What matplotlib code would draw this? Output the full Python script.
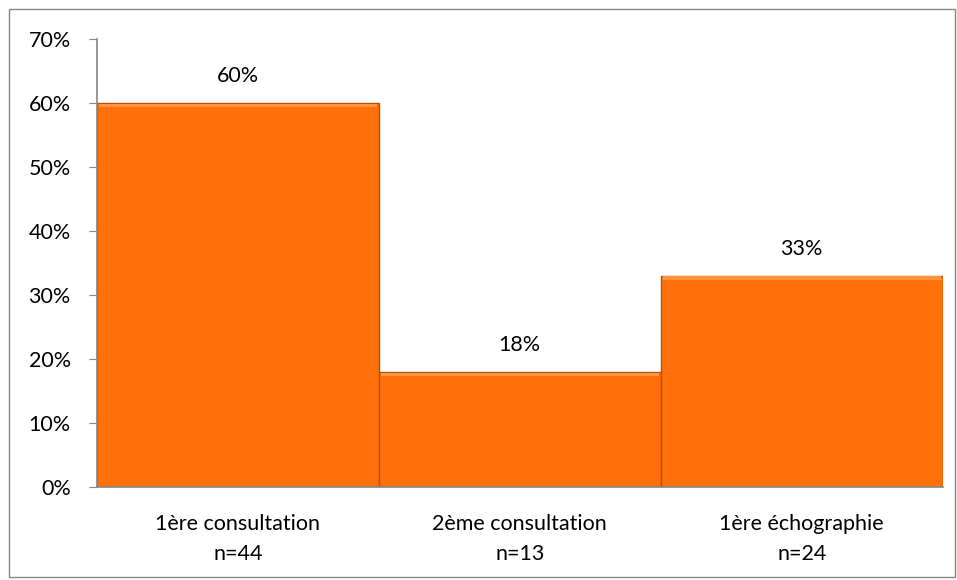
import matplotlib.pyplot as plt
from matplotlib.patches import Rectangle
from matplotlib.ticker import PercentFormatter

# Chart data
categories = ['1ère consultation\nn=44', '2ème consultation\nn=13', '1ère échographie\nn=24']
values = [60, 18, 33]
value_labels = ['60%', '18%', '33%']
y_ticks = [0, 10, 20, 30, 40, 50, 60, 70]

plt.rcParams['font.family'] = ['Lato', 'DejaVu Sans']
plt.rcParams['font.size'] = 15.5

fig = plt.figure(figsize=(9.57, 5.8), dpi=100)
ax = fig.add_axes([0.1014, 0.160, 0.8836, 0.773])

x = range(len(categories))
ax.bar(x, values, width=1.0, color='#FF700A', edgecolor='#B5520A', linewidth=1.0)
# light bevel along the top of each bar
ax.bar(x, [0.6] * len(values), bottom=[v - 0.7 for v in values], width=0.985,
       color='#FF9540', linewidth=0)

for xi, v, lab in zip(x, values, value_labels):
    ax.annotate(lab, (xi, v), xytext=(0, 12), textcoords='offset points',
                ha='center', va='bottom')

ax.set_xlim(-0.5, len(categories) - 0.5)
ax.set_ylim(0, 70)
ax.set_yticks(y_ticks)
ax.yaxis.set_major_formatter(PercentFormatter(decimals=0))
ax.set_xticks(list(x))
ax.set_xticklabels(categories, linespacing=1.65)
ax.tick_params(axis='x', length=0, pad=19)
ax.tick_params(axis='y', length=6, color='#868686', pad=13)

for side in ['top', 'right']:
    ax.spines[side].set_visible(False)
for side in ['left', 'bottom']:
    ax.spines[side].set_color('#868686')
    ax.spines[side].set_linewidth(1.2)

# outer chart border
fig.patches.append(Rectangle((0.0095, 0.005), 0.988, 0.98, transform=fig.transFigure,
                             fill=False, edgecolor='#868686', linewidth=1.0))

fig.savefig('out.png', dpi=100)
